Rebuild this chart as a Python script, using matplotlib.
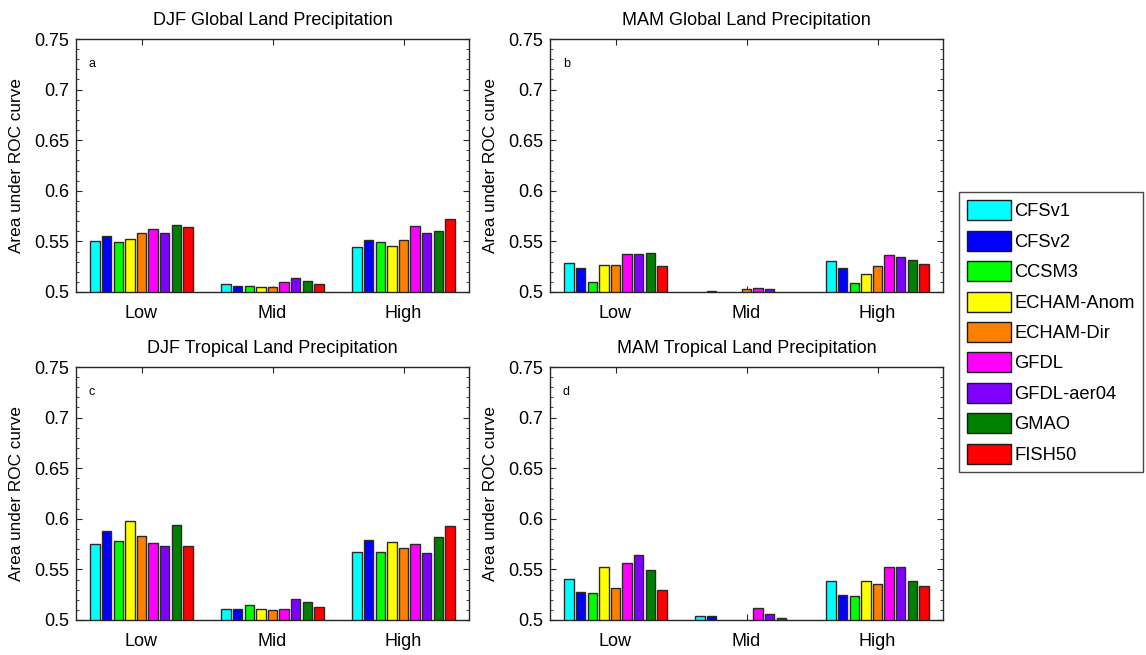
import matplotlib
matplotlib.use("Agg")
import matplotlib.pyplot as plt
import matplotlib.patches as mpatches
import numpy as np
from matplotlib.ticker import MultipleLocator

plt.rcParams["font.family"] = ["Liberation Sans", "DejaVu Sans"]

# ─── data ───────────────────────────────────────────────────────────────
groups = ["Low", "Mid", "High"]
models = ["CFSv1", "CFSv2", "CCSM3", "ECHAM-Anom", "ECHAM-Dir",
          "GFDL", "GFDL-aer04", "GMAO", "FISH50"]
colors = ["#00FFFF", "#0000FF", "#00FF00", "#FFFF00", "#FF8000",
          "#FF00FF", "#8000FF", "#008000", "#FF0000"]

# rows: Low, Mid, High ; columns: models (values < 0.5 fall below the axis)
djf_global = [
    [0.550, 0.555, 0.549, 0.552, 0.558, 0.562, 0.558, 0.566, 0.564],
    [0.508, 0.506, 0.506, 0.505, 0.505, 0.510, 0.514, 0.511, 0.508],
    [0.544, 0.551, 0.549, 0.545, 0.551, 0.565, 0.558, 0.560, 0.572],
]
mam_global = [
    [0.529, 0.524, 0.510, 0.527, 0.527, 0.538, 0.538, 0.539, 0.526],
    [0.497, 0.501, 0.497, 0.497, 0.503, 0.504, 0.503, 0.497, 0.497],
    [0.531, 0.524, 0.509, 0.518, 0.526, 0.537, 0.535, 0.532, 0.528],
]
djf_tropical = [
    [0.575, 0.588, 0.578, 0.598, 0.583, 0.576, 0.573, 0.594, 0.573],
    [0.511, 0.511, 0.515, 0.511, 0.510, 0.511, 0.521, 0.518, 0.513],
    [0.567, 0.579, 0.567, 0.577, 0.571, 0.575, 0.566, 0.582, 0.593],
]
mam_tropical = [
    [0.541, 0.528, 0.527, 0.552, 0.532, 0.556, 0.564, 0.549, 0.530],
    [0.504, 0.504, 0.497, 0.497, 0.497, 0.512, 0.506, 0.502, 0.497],
    [0.539, 0.525, 0.524, 0.539, 0.536, 0.552, 0.552, 0.539, 0.534],
]

panels = [
    ("DJF Global Land Precipitation", "a", djf_global),
    ("MAM Global Land Precipitation", "b", mam_global),
    ("DJF Tropical Land Precipitation", "c", djf_tropical),
    ("MAM Tropical Land Precipitation", "d", mam_tropical),
]

# ─── layout ─────────────────────────────────────────────────────────────
W, H = 1146, 655
fig = plt.figure(figsize=(W / 100, H / 100), dpi=100)

ax_w, ax_h = 393 / W, 253 / H
lefts = [76 / W, 550 / W]
bottoms = [(H - 292) / H, (H - 620) / H]

n = len(models)
spacing = 0.8 / n
bar_w = spacing * 0.8
fs = 13

for i, (title, letter, vals) in enumerate(panels):
    ax = fig.add_axes([lefts[i % 2], bottoms[i // 2], ax_w, ax_h])
    ax.set_axisbelow(True)
    vals = np.array(vals)
    x = np.arange(1, len(groups) + 1)
    for j in range(n):
        offs = (j - (n - 1) / 2) * spacing
        ax.bar(x + offs, vals[:, j], width=bar_w, color=colors[j],
               edgecolor="#2a2a2a", linewidth=1.0)

    ax.set_xlim(0.5, 3.5)
    ax.set_ylim(0.5, 0.75)
    ax.set_xticks(x)
    ax.set_xticklabels(groups, fontsize=fs)
    ax.yaxis.set_minor_locator(MultipleLocator(0.01))
    ax.set_yticks(np.arange(0.5, 0.751, 0.05))
    ax.set_yticklabels(["0.5", "0.55", "0.6", "0.65", "0.7", "0.75"], fontsize=fs)
    ax.tick_params(which="both", direction="in", top=True, right=True,
                   color="#262626")
    ax.tick_params(which="major", length=4)
    ax.tick_params(axis="y", which="major", pad=5)
    ax.tick_params(axis="x", which="major", pad=9)
    ax.tick_params(which="minor", length=2.5)
    for s in ax.spines.values():
        s.set_linewidth(1.0)
        s.set_color("#262626")

    ax.set_ylabel("Area under ROC curve", fontsize=12.3, labelpad=7)
    ax.set_title(title, fontsize=fs, pad=10)
    ax.text(0.033, 0.89, letter, transform=ax.transAxes, fontsize=9)

# ─── legend ─────────────────────────────────────────────────────────────
handles = [mpatches.Patch(facecolor=c, edgecolor="#1a1a1a", linewidth=1.0, label=m)
           for c, m in zip(colors, models)]
leg = fig.legend(handles=handles, loc="center left",
                 bbox_to_anchor=(959 / W, 1 - 332 / H),
                 fontsize=13.2, handlelength=2.4, handleheight=1.3,
                 labelspacing=0.56, handletextpad=0.15, borderpad=0.45,
                 frameon=True, fancybox=False, borderaxespad=0)
leg.get_frame().set_edgecolor("#1a1a1a")
leg.get_frame().set_linewidth(1.0)

fig.savefig("out.png", dpi=100)
